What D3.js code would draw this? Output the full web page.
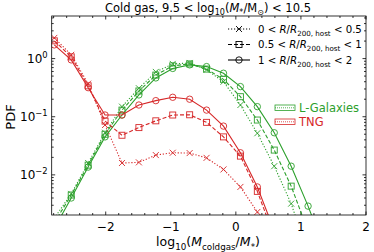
<!DOCTYPE html>
<html>
<head>
<meta charset="utf-8">
<script src="https://cdn.jsdelivr.net/npm/d3@7"></script>
<style>
body { margin: 0; background: #fff; }
svg { display: block; font-family: "DejaVu Sans", sans-serif; }
</style>
</head>
<body>
<svg width="374" height="252"></svg>
<script>
// bin centres of log10(Mcoldgas/M*)
var binCentres = [-2.79, -2.53, -2.27, -2.01, -1.75, -1.49, -1.23, -0.97, -0.71, -0.45, -0.19, 0.07, 0.33, 0.59, 0.85, 1.11, 1.37];

// TNG (red)
var tngInner = [2.27, 1.16, 0.37, 0.072, 0.016, 0.0164, 0.0219, 0.024, 0.0237, 0.0196, 0.0124, 0.0062, 0.0023, 0.0008];
var tngMiddle = [2.02, 1.07, 0.34, 0.084, 0.048, 0.065, 0.085, 0.107, 0.108, 0.08, 0.045, 0.021, 0.0052, 0.00087];
var tngOuter = [1.72, 0.95, 0.316, 0.107, 0.107, 0.159, 0.189, 0.216, 0.2, 0.13, 0.069, 0.024, 0.0062, 0.0011];

// L-Galaxies (green)
var lgInner = [0.0018, 0.0047, 0.016, 0.053, 0.149, 0.309, 0.59, 0.81, 0.84, 0.64, 0.40, 0.159, 0.052, 0.0141, 0.0032, 0.00044];
var lgMiddle = [0.0015, 0.0045, 0.0147, 0.050, 0.13, 0.277, 0.52, 0.75, 0.81, 0.66, 0.44, 0.221, 0.0877, 0.0267, 0.0064, 0.00107];
var lgOuter = [0.0012, 0.0040, 0.0136, 0.045, 0.107, 0.237, 0.465, 0.677, 0.78, 0.728, 0.56, 0.33, 0.149, 0.053, 0.0141, 0.0029, 0.0005];

var xTicks = [-2, -1, 0, 1, 2];
var yTicks = [1, 0.1, 0.01];
var yTickLabels = ['0', '\u22121', '\u22122'];
var radialLabels = [['0', '0.5'], ['0.5', '1'], ['1', '2']];

var green = '#2ca02c', red = '#d62728';

var svg = d3.select('svg');
var pLeft = 51.7, pRight = 366, pTop = 16, pBottom = 215;

var x = d3.scaleLinear().domain([-2.83, 2]).range([pLeft, pRight]);
var y = d3.scaleLog().domain([0.00204, 5.4]).range([pBottom, pTop]);

svg.append('clipPath').attr('id', 'clip')
	.append('rect').attr('x', pLeft).attr('y', pTop).attr('width', pRight - pLeft).attr('height', pBottom - pTop);

// rich text helper: parts = [{t, sub, sup, it}]
function richText(sel, parts, size) {
	var shift = 0;
	parts.forEach(function (p) {
		var ts = sel.append('tspan').text(p.t);
		var target = 0;
		if (p.it) ts.attr('font-style', 'italic');
		if (p.sub) { ts.attr('font-size', size * 0.7); target = size * 0.3; }
		if (p.sup) { ts.attr('font-size', size * 0.7); target = -size * 0.42; }
		if (target !== shift) ts.attr('dy', target - shift);
		shift = target;
	});
}

// axes: ticks pointing inward on all four sides
var axisG = svg.append('g').attr('stroke', '#000').attr('stroke-width', 0.8);
var xMinor = d3.range(-2.8, 2.01, 0.2).filter(function (v) { return Math.abs(v - Math.round(v)) > 0.01; });
xTicks.forEach(function (v) {
	axisG.append('line').attr('x1', x(v)).attr('x2', x(v)).attr('y1', pBottom).attr('y2', pBottom - 3.5);
	axisG.append('line').attr('x1', x(v)).attr('x2', x(v)).attr('y1', pTop).attr('y2', pTop + 3.5);
});
xMinor.forEach(function (v) {
	axisG.append('line').attr('x1', x(v)).attr('x2', x(v)).attr('y1', pBottom).attr('y2', pBottom - 2);
	axisG.append('line').attr('x1', x(v)).attr('x2', x(v)).attr('y1', pTop).attr('y2', pTop + 2);
});
var yMinor = [];
[0.001, 0.01, 0.1, 1].forEach(function (d) {
	for (var k = 2; k < 10; k++) {
		var v = d * k;
		if (v > y.domain()[0] && v < y.domain()[1]) yMinor.push(v);
	}
});
yTicks.forEach(function (v) {
	axisG.append('line').attr('x1', pLeft).attr('x2', pLeft + 3.5).attr('y1', y(v)).attr('y2', y(v));
	axisG.append('line').attr('x1', pRight).attr('x2', pRight - 3.5).attr('y1', y(v)).attr('y2', y(v));
});
yMinor.forEach(function (v) {
	axisG.append('line').attr('x1', pLeft).attr('x2', pLeft + 2).attr('y1', y(v)).attr('y2', y(v));
	axisG.append('line').attr('x1', pRight).attr('x2', pRight - 2).attr('y1', y(v)).attr('y2', y(v));
});

// tick labels
xTicks.forEach(function (v) {
	svg.append('text').attr('x', x(v)).attr('y', pBottom + 16).attr('text-anchor', 'middle')
		.attr('font-size', 12).text(v < 0 ? '\u2212' + Math.abs(v) : v);
});
yTicks.forEach(function (v, i) {
	var t = svg.append('text').attr('x', pLeft - 4).attr('y', y(v) + 4.5).attr('text-anchor', 'end').attr('font-size', 12);
	richText(t, [{ t: '10' }, { t: yTickLabels[i], sup: true }], 12);
});

// series
var line = d3.line()
	.x(function (d) { return x(d[0]); })
	.y(function (d) { return y(d[1]); });

var plot = svg.append('g').attr('clip-path', 'url(#clip)');

function addMarker(sel, color, marker) {
	if (marker === 'x') {
		sel.append('path').attr('d', 'M-3,-3L3,3M-3,3L3,-3').attr('stroke', color).attr('stroke-width', 0.9).attr('fill', 'none');
	} else if (marker === 's') {
		sel.append('rect').attr('x', -3).attr('y', -3).attr('width', 6).attr('height', 6)
			.attr('stroke', color).attr('stroke-width', 0.9).attr('fill', 'none');
	} else {
		sel.append('circle').attr('r', 3.2).attr('stroke', color).attr('stroke-width', 0.9).attr('fill', 'none');
	}
}

function drawSeries(vals, color, dash, marker) {
	var pts = vals.map(function (v, i) { return [binCentres[i], v]; });
	plot.append('path').datum(pts)
		.attr('d', line)
		.attr('fill', 'none')
		.attr('stroke', color)
		.attr('stroke-width', 1.1)
		.attr('stroke-dasharray', dash);
	var m = plot.append('g').selectAll('g').data(pts).enter().append('g')
		.attr('transform', function (d) { return 'translate(' + x(d[0]) + ',' + y(d[1]) + ')'; });
	addMarker(m, color, marker);
}

var styles = [
	{ dash: '1.2,1.8', marker: 'x' },
	{ dash: '4,2', marker: 's' },
	{ dash: null, marker: 'o' }
];

[lgInner, lgMiddle, lgOuter].forEach(function (s, i) { drawSeries(s, green, styles[i].dash, styles[i].marker); });
[tngInner, tngMiddle, tngOuter].forEach(function (s, i) { drawSeries(s, red, styles[i].dash, styles[i].marker); });

// frame
svg.append('rect').attr('x', pLeft).attr('y', pTop).attr('width', pRight - pLeft).attr('height', pBottom - pTop)
	.attr('fill', 'none').attr('stroke', '#000').attr('stroke-width', 0.8);

// legend: radial bins
styles.forEach(function (s, i) {
	var ly = 29 + i * 15.5;
	var g = svg.append('g').attr('transform', 'translate(239,' + ly + ')');
	g.append('line').attr('x1', -11).attr('x2', 11).attr('stroke', '#000').attr('stroke-width', 1.1)
		.attr('stroke-dasharray', s.dash);
	addMarker(g, '#000', s.marker);
	var t = svg.append('text').attr('x', 258).attr('y', ly + 3.8).attr('font-size', 10.2);
	richText(t, [
		{ t: radialLabels[i][0] + ' < ' }, { t: 'R', it: true }, { t: '/' }, { t: 'R', it: true },
		{ t: '200, host', sub: true }, { t: ' < ' + radialLabels[i][1] }
	], 10.2);
});

// legend: models
[['L-Galaxies', green], ['TNG', red]].forEach(function (m, i) {
	var ly = 108 + i * 14;
	var g = svg.append('g').attr('transform', 'translate(275,' + ly + ')');
	g.append('rect').attr('x', 0).attr('y', -3).attr('width', 20).attr('height', 5.5)
		.attr('fill', 'none').attr('stroke', m[1]).attr('stroke-width', 0.8);
	g.append('line').attr('x1', 0).attr('x2', 20).attr('y1', -0.2).attr('y2', -0.2)
		.attr('stroke', m[1]).attr('stroke-width', 0.8).attr('stroke-dasharray', '1,1');
	svg.append('text').attr('x', 299).attr('y', ly + 4).attr('font-size', 11.5).attr('fill', m[1]).text(m[0]);
});

// title
var title = svg.append('text').attr('x', 208).attr('y', 12).attr('text-anchor', 'middle').attr('font-size', 11.5);
richText(title, [
	{ t: 'Cold gas, 9.5 < log' }, { t: '10', sub: true }, { t: '(' }, { t: 'M', it: true }, { t: '*', sub: true },
	{ t: '/M' }, { t: '\u2299', sub: true }, { t: ') < 10.5' }
], 11.5);

// axis labels
var xl = svg.append('text').attr('x', 208).attr('y', 246).attr('text-anchor', 'middle').attr('font-size', 12.5);
richText(xl, [
	{ t: 'log' }, { t: '10', sub: true }, { t: '(' }, { t: 'M', it: true }, { t: 'coldgas', sub: true },
	{ t: '/' }, { t: 'M', it: true }, { t: '*', sub: true }, { t: ')' }
], 12.5);

svg.append('text').attr('transform', 'translate(15,117) rotate(-90)').attr('text-anchor', 'middle')
	.attr('font-size', 13).text('PDF');
</script>
</body>
</html>
